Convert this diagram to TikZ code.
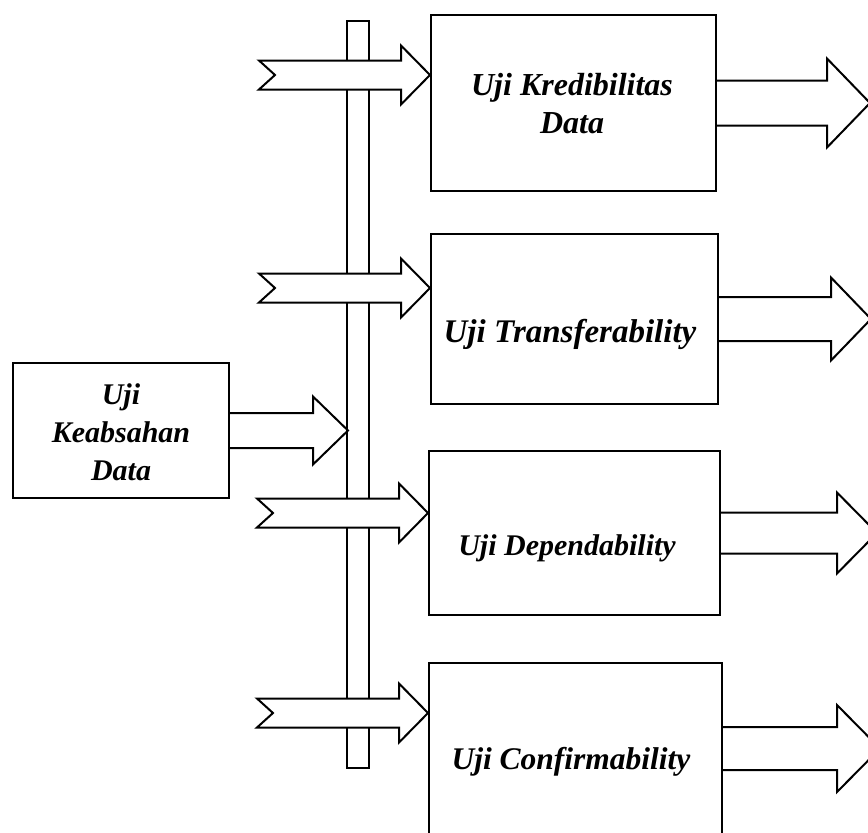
\documentclass[tikz,border=0pt]{standalone}
\usepackage{fontspec}
\setmainfont{Liberation Serif}

% Open block arrow leaving a box edge:
% #1 start anchor, #2 shaft length, #3 half shaft width, #4 half head width, #5 head length
\newcommand\openarrow[5]{%
  \draw ([yshift=#3pt]#1) -- ++(#2,0) -- ++(0,#3-#4) -- ++(#5,#4)
        -- ++(-#5,#4) -- ++(0,#3-#4) -- ++(-#2,0);}

% Notched block arrow ending at the tip coordinate #1
\newcommand\notcharrow[1]{%
  \draw[fill=white] (#1) -- ++(-29,-29.5) -- ++(0,15) -- ++(-142,0)
        -- ++(16,14.5) -- ++(-16,14.5) -- ++(142,0) -- ++(0,15) -- cycle;}

\begin{document}
\begin{tikzpicture}[x=1pt,y=-1pt,line width=2pt,line join=miter,
  box/.style={draw,fill=white,inner sep=0pt},
  label/.style={align=center,inner sep=0pt,
    font=\fontsize{30}{38}\selectfont\bfseries\itshape}]
\useasboundingbox (0,0) rectangle (868,833);
\clip (0,0) rectangle (868,833);

% vertical bar
\node[box,minimum width=22pt,minimum height=747pt] (bar) at (358,394.5) {};

% boxes
\node[box,minimum width=216pt,minimum height=135pt] (lb) at (121,430.5) {};
\node[box,minimum width=285pt,minimum height=176pt] (b1) at (573.5,103) {};
\node[box,minimum width=287pt,minimum height=170pt] (b2) at (574.5,319) {};
\node[box,minimum width=291pt,minimum height=164pt] (b3) at (574.5,533) {};
\node[box,minimum width=293pt,minimum height=171pt] (b4) at (575.5,748.5) {};

% texts
\node[label] (tl) at (121,432) {Uji\\Keabsahan\\Data};
\node[label,font=\fontsize{32}{38}\selectfont\bfseries\itshape] (t1) at (572,104) {Uji Kredibilitas\\Data};
\node[label,font=\fontsize{33}{38}\selectfont\bfseries\itshape] (t2) at (570,334) {Uji Transferability};
\node[label] (t3) at (567,548) {Uji Dependability};
\node[label,font=\fontsize{31.5}{38}\selectfont\bfseries\itshape] (t4) at (571,762) {Uji Confirmability};

% arrow tips on the boxes
\coordinate (a1) at ([yshift=28pt]b1.west);
\coordinate (a2) at ([yshift=31pt]b2.west);
\coordinate (a3) at ([yshift=20pt]b3.west);
\coordinate (a4) at ([yshift=35.5pt]b4.west);

% notched arrows crossing the bar
\notcharrow{a1}
\notcharrow{a2}
\notcharrow{a3}
\notcharrow{a4}

% arrow from the left box to the bar
\openarrow{lb.east}{83}{17.5}{34}{35}

% arrows leaving the right boxes
\openarrow{b1.east}{110}{22.5}{44.5}{43}
\openarrow{b2.east}{112}{22}{41.5}{40}
\openarrow{b3.east}{116}{20.5}{40.5}{40}
\openarrow{b4.east}{114}{21.5}{43.5}{43}
\end{tikzpicture}
\end{document}
